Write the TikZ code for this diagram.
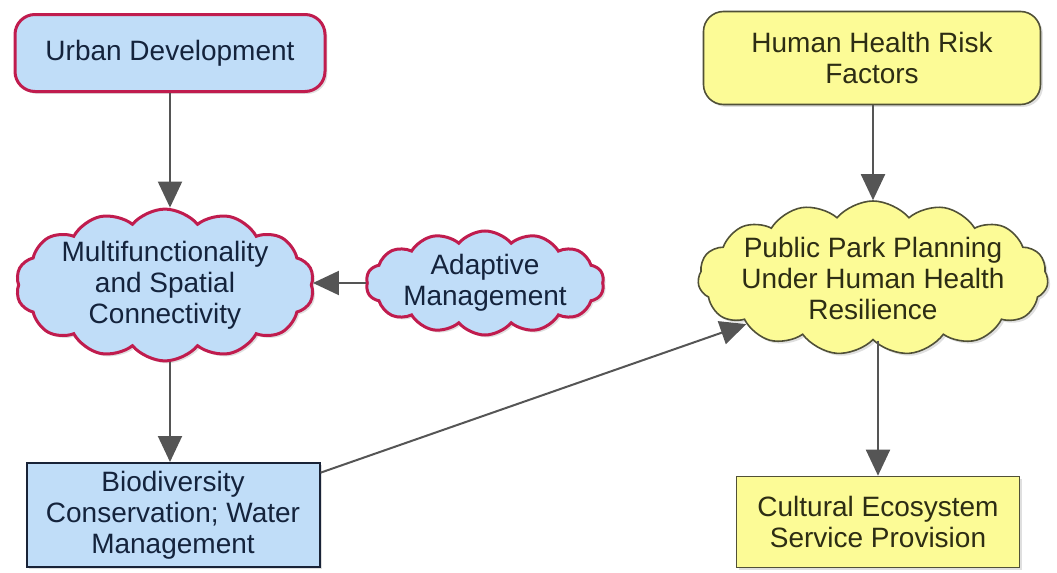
\documentclass[tikz,border=0pt]{standalone}
\usepackage{fontspec}
\setmainfont{Liberation Sans}
\usetikzlibrary{shapes.symbols,shadows,arrows.meta}
\definecolor{bluefill}{RGB}{192,221,248}
\definecolor{crim}{RGB}{192,28,78}
\definecolor{navy}{RGB}{25,35,55}
\definecolor{yelfill}{RGB}{252,251,150}
\definecolor{olive}{RGB}{80,80,55}
\definecolor{arrowgray}{RGB}{85,85,85}
\definecolor{bluetext}{RGB}{20,35,60}
\definecolor{yeltext}{RGB}{45,45,20}
\tikzset{
 base/.style={align=center, font=\fontsize{14}{15.5}\selectfont, inner sep=0pt,
   drop shadow={shadow xshift=1.2pt, shadow yshift=-1.2pt, opacity=0.25}},
 bluerounded/.style={base, rectangle, rounded corners=10pt, fill=bluefill, draw=crim, line width=1.5pt, text=bluetext},
 bluecloud/.style={base, cloud, cloud puffs=14, cloud puff arc=100, cloud ignores aspect, fill=bluefill, draw=crim, line width=1.5pt, text=bluetext},
 bluebox/.style={base, rectangle, fill=bluefill, draw=navy, line width=1pt, text=bluetext},
 yelrounded/.style={base, rectangle, rounded corners=10pt, fill=yelfill, draw=olive, line width=0.8pt, text=yeltext},
 yelcloud/.style={base, cloud, cloud puffs=15, cloud puff arc=100, cloud ignores aspect, fill=yelfill, draw=olive, line width=0.8pt, text=yeltext},
 yelbox/.style={base, rectangle, fill=yelfill, draw=olive, line width=0.8pt, text=yeltext},
 conn/.style={draw=arrowgray, line width=1pt, -{Triangle[length=13pt,width=12pt]}}
}
\begin{document}
\begin{tikzpicture}[x=0.5pt,y=-0.5pt]
\useasboundingbox (0,0) rectangle (1057,573);
\node[bluerounded, minimum width=155pt, minimum height=38.5pt] (urban) at (170,53) {Urban Development};
\node[bluecloud, minimum width=143pt, minimum height=72pt] (multi) at (165,285) {Multifunctionality\\and Spatial\\Connectivity};
\node[bluecloud, minimum width=119pt, minimum height=52pt] (adapt) at (485,283) {Adaptive\\Management};
\node[bluebox, minimum width=146.5pt, minimum height=52pt] (bio) at (173,515) {Biodiversity\\Conservation; Water\\Management};
\node[yelrounded, minimum width=168.5pt, minimum height=46.5pt] (human) at (872,58) {Human Health Risk\\Factors};
\node[yelcloud, inner xsep=-4.5pt, minimum width=168pt, minimum height=77pt] (park) at (873,278) {Public Park Planning\\Under Human Health\\Resilience};
\node[yelbox, minimum width=141.5pt, minimum height=45.5pt] (cult) at (878,522) {Cultural Ecosystem\\Service Provision};

\draw[conn] (urban.south) -- (urban.south |- multi.north);
\draw[conn] (adapt.west) -- (adapt.west -| multi.east);
\draw[conn] (urban.south |- multi.south) -- (urban.south |- bio.north);
\draw[conn] (bio.16) -- (park.200);
\draw[conn] (park.north |- human.south) -- (park.north);
\draw[conn] (cult.north |- park.south) -- (cult.north);
\end{tikzpicture}
\end{document}
